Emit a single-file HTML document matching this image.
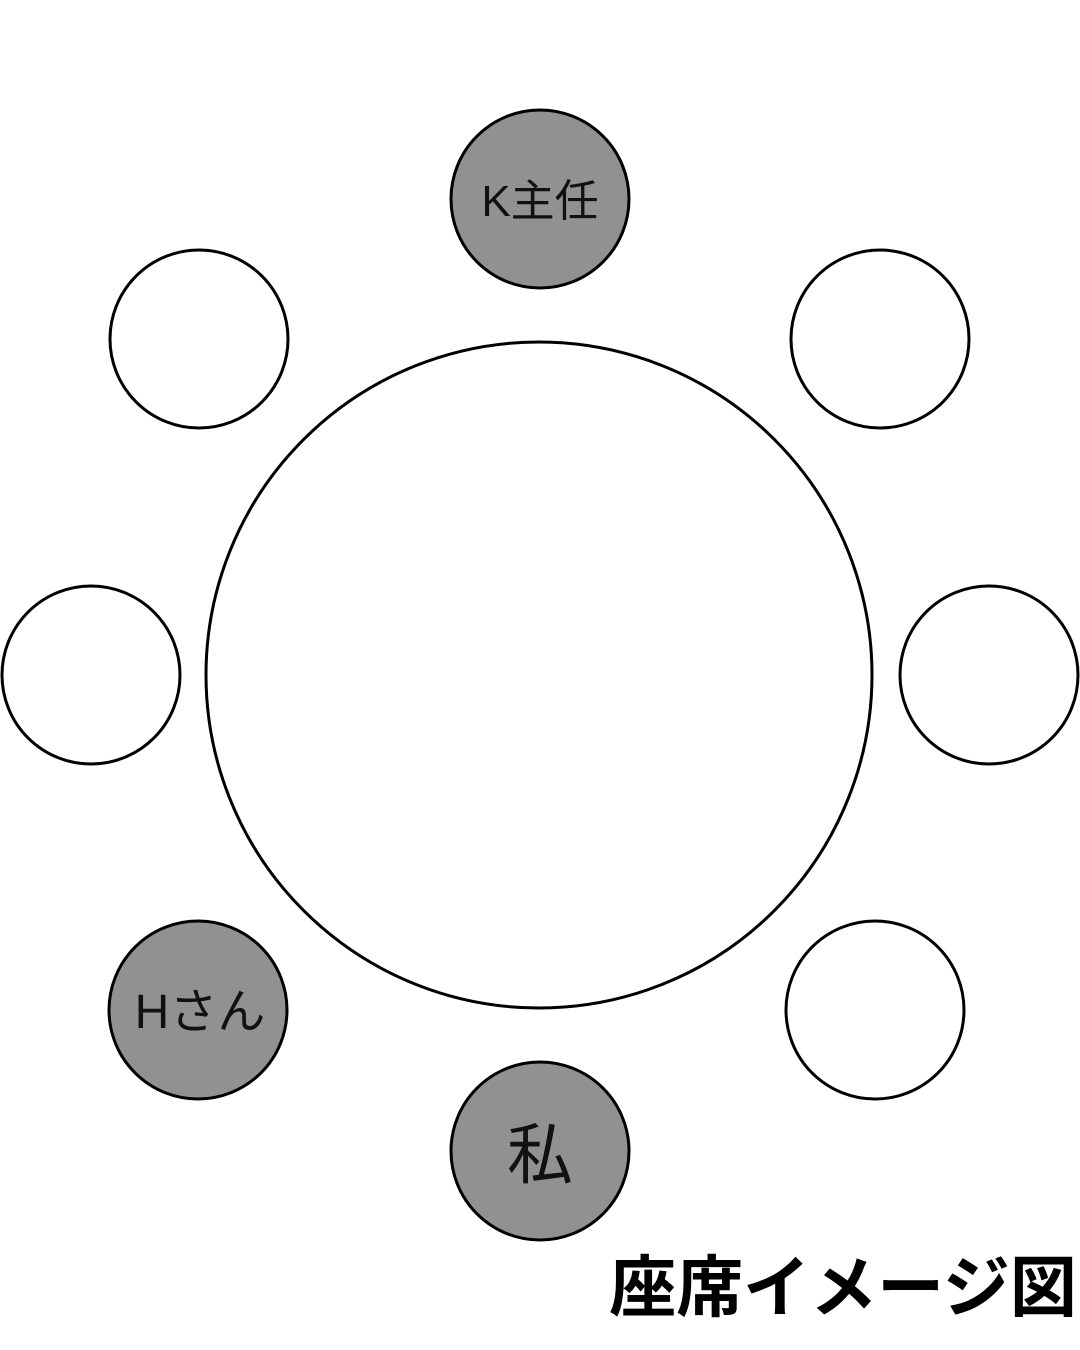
<!DOCTYPE html>
<html><head><meta charset="utf-8"><style>
html,body{margin:0;padding:0;background:#fff;}
</style></head><body>
<svg width="1080" height="1350" xmlns="http://www.w3.org/2000/svg" style="display:block">
<g stroke="#000" stroke-width="3">
<ellipse cx="539" cy="675" rx="333" ry="333" fill="#fff"/>
<circle cx="540" cy="199" r="89" fill="#919191"/>
<circle cx="199" cy="339" r="89" fill="#fff"/>
<circle cx="880" cy="339" r="89" fill="#fff"/>
<circle cx="91" cy="675" r="89" fill="#fff"/>
<circle cx="989" cy="675" r="89" fill="#fff"/>
<circle cx="198" cy="1010" r="89" fill="#919191"/>
<circle cx="875" cy="1010" r="89" fill="#fff"/>
<circle cx="540" cy="1151" r="89" fill="#919191"/>
</g>
<g font-family="Liberation Sans, Noto Sans CJK JP, sans-serif" fill="#111" text-anchor="middle">
<text x="540" y="216" font-size="44">K主任</text>
<text x="200" y="1028" font-size="48">Hさん</text>
<text x="540" y="1178" font-size="66">私</text>
<text x="843" y="1311" font-size="67" font-weight="bold" fill="#000">座席イメージ図</text>
</g>
</svg>
</body></html>
